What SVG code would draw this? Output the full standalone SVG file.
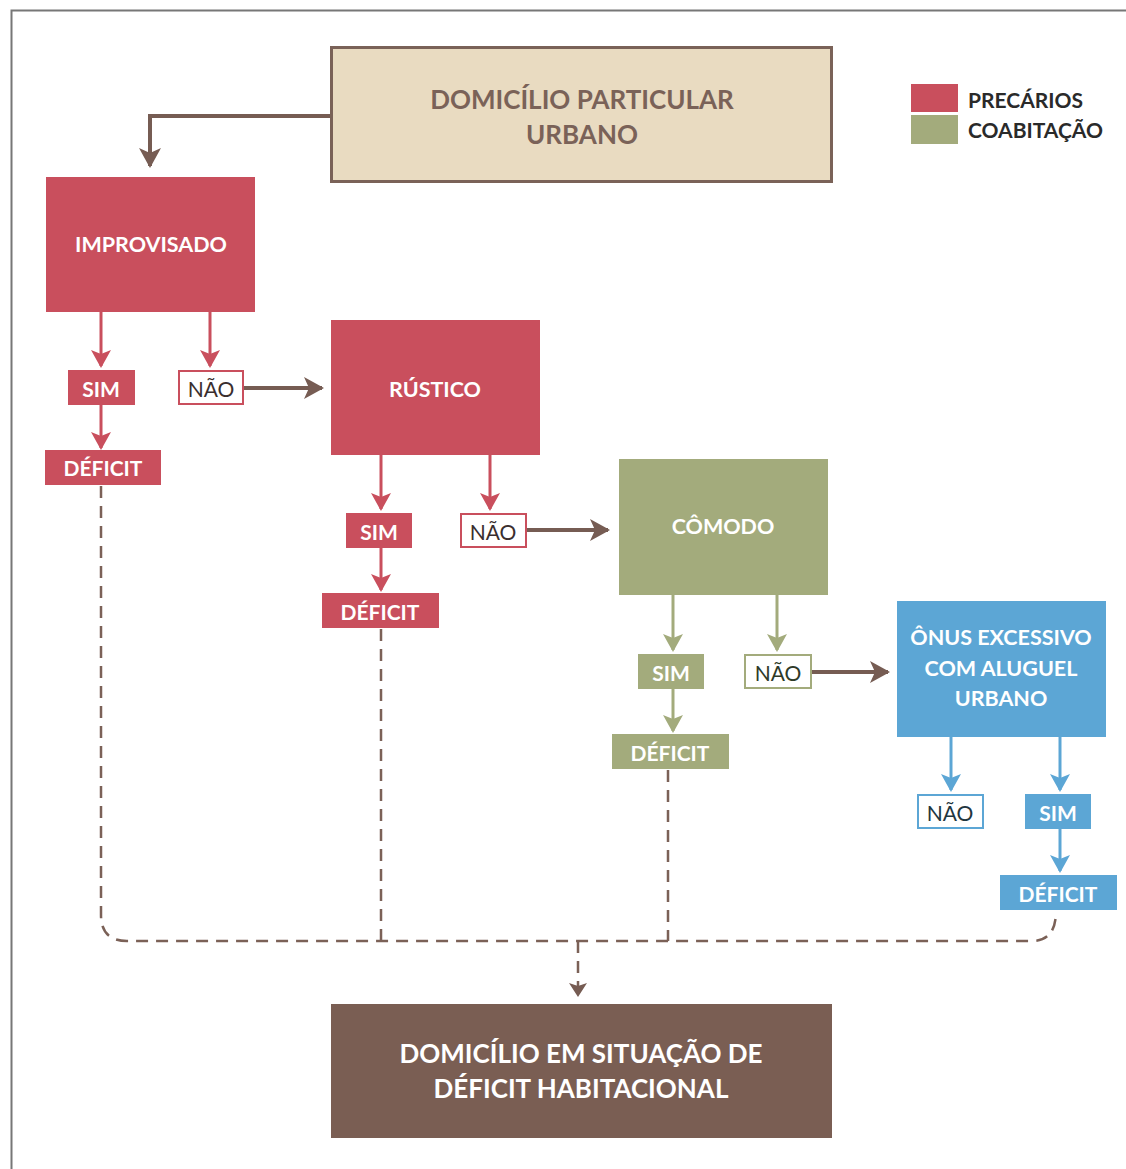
<svg xmlns="http://www.w3.org/2000/svg" width="1126" height="1169" viewBox="0 0 1126 1169">
<style>
text{font-family:Lato,"Open Sans","Liberation Sans",sans-serif;font-weight:bold;text-anchor:middle;dominant-baseline:central}
.w{fill:#fff}
.red{fill:#c94f5d}
.grn{fill:#a3ab7c}
.blu{fill:#5ca6d5}
.lr{stroke:#c94f5d;stroke-width:3;fill:none}
.lg{stroke:#a3ab7c;stroke-width:3;fill:none}
.lb{stroke:#5ca6d5;stroke-width:3;fill:none}
.lbr{stroke:#765c53;stroke-width:4;fill:none}
.dash{stroke:#7b6157;stroke-width:2.5;fill:none;stroke-dasharray:12 8}
.lbl{font-size:21px}
.big{font-size:21.5px}
.no{font-weight:normal;font-size:21px}
</style>
<defs>
<marker id="ar" viewBox="0 0 18 20" refX="16" refY="10" markerWidth="18" markerHeight="20" markerUnits="userSpaceOnUse" orient="auto"><path d="M0,0 L18,10 L0,20 L4,10 z" fill="#c94f5d"/></marker>
<marker id="ag" viewBox="0 0 18 20" refX="16" refY="10" markerWidth="18" markerHeight="20" markerUnits="userSpaceOnUse" orient="auto"><path d="M0,0 L18,10 L0,20 L4,10 z" fill="#a3ab7c"/></marker>
<marker id="ab" viewBox="0 0 18 20" refX="16" refY="10" markerWidth="18" markerHeight="20" markerUnits="userSpaceOnUse" orient="auto"><path d="M0,0 L18,10 L0,20 L4,10 z" fill="#5ca6d5"/></marker>
<marker id="abr" viewBox="0 0 20 22" refX="18" refY="11" markerWidth="20" markerHeight="22" markerUnits="userSpaceOnUse" orient="auto"><path d="M0,0 L20,11 L0,22 L5,11 z" fill="#765c53"/></marker>
<marker id="abs" viewBox="0 0 14 18" refX="13" refY="9" markerWidth="14" markerHeight="18" markerUnits="userSpaceOnUse" orient="auto"><path d="M0,0 L14,9 L0,18 L3,9 z" fill="#765c53"/></marker>
</defs>
<rect width="1126" height="1169" fill="#fff"/>
<path d="M11.5,1169 V10.5 H1126" fill="none" stroke="#777" stroke-width="2"/>

<g id="connectors">
<path class="lbr" d="M331,116 H150 V166" marker-end="url(#abr)"/>
<path class="lr" d="M101,312 V366" marker-end="url(#ar)"/>
<path class="lr" d="M210,312 V366" marker-end="url(#ar)"/>
<path class="lr" d="M101,405 V448" marker-end="url(#ar)"/>
<path class="lbr" d="M243,388 H322" marker-end="url(#abr)"/>
<path class="lr" d="M381,455 V509" marker-end="url(#ar)"/>
<path class="lr" d="M490,455 V509" marker-end="url(#ar)"/>
<path class="lr" d="M381,548 V590" marker-end="url(#ar)"/>
<path class="lbr" d="M526,530 H608" marker-end="url(#abr)"/>
<path class="lg" d="M673,595 V650" marker-end="url(#ag)"/>
<path class="lg" d="M777,595 V650" marker-end="url(#ag)"/>
<path class="lg" d="M673,689 V731" marker-end="url(#ag)"/>
<path class="lbr" d="M811,672 H888" marker-end="url(#abr)"/>
<path class="lb" d="M951,737 V790" marker-end="url(#ab)"/>
<path class="lb" d="M1060,737 V790" marker-end="url(#ab)"/>
<path class="lb" d="M1060,829 V871" marker-end="url(#ab)"/>
<path class="dash" d="M101,486 V915 Q101,941 127,941 H1032 Q1056,941 1056,911"/>
<path class="dash" d="M381,629 V941"/>
<path class="dash" d="M668,770 V941"/>
<path class="dash" d="M578,941 V996" marker-end="url(#abs)"/>
</g>

<g id="legend">
<rect x="911" y="84" width="47" height="28" fill="#c94f5d"/>
<rect x="911" y="115" width="47" height="29" fill="#a3ab7c"/>
<text x="968" y="99" style="text-anchor:start;font-size:21px;fill:#2a2a2a">PRECÁRIOS</text>
<text x="968" y="129" style="text-anchor:start;font-size:21px;fill:#2a2a2a">COABITAÇÃO</text>
</g>

<g id="n-domicilio">
<rect x="331.5" y="47.5" width="500" height="134" fill="#e9dbc1" stroke="#7a6258" stroke-width="3"/>
<text x="582" y="99" style="font-size:26px;fill:#7a6258">DOMICÍLIO PARTICULAR</text>
<text x="582" y="134" style="font-size:26px;fill:#7a6258">URBANO</text>
</g>

<g id="n-improvisado">
<rect x="46" y="177" width="209" height="135" class="red"/>
<text x="151" y="244" class="w big">IMPROVISADO</text>
</g>
<g id="n-sim1"><rect x="68" y="370" width="67" height="35" class="red"/><text x="101" y="388" class="w lbl">SIM</text></g>
<g id="n-nao1"><rect x="179" y="371" width="64" height="33" fill="#fff" stroke="#c94f5d" stroke-width="2"/><text x="211" y="388" class="no" fill="#3a2e2e">NÃO</text></g>
<g id="n-deficit1"><rect x="45" y="450" width="116" height="35" class="red"/><text x="103" y="467" class="w lbl">DÉFICIT</text></g>

<g id="n-rustico">
<rect x="331" y="320" width="209" height="135" class="red"/>
<text x="435" y="389" class="w big">RÚSTICO</text>
</g>
<g id="n-sim2"><rect x="346" y="513" width="66" height="35" class="red"/><text x="379" y="531" class="w lbl">SIM</text></g>
<g id="n-nao2"><rect x="461" y="514" width="65" height="33" fill="#fff" stroke="#c94f5d" stroke-width="2"/><text x="493" y="531" class="no" fill="#3a2e2e">NÃO</text></g>
<g id="n-deficit2"><rect x="322" y="593" width="117" height="35" class="red"/><text x="380" y="611" class="w lbl">DÉFICIT</text></g>

<g id="n-comodo">
<rect x="619" y="459" width="209" height="136" class="grn"/>
<text x="723" y="526" class="w big">CÔMODO</text>
</g>
<g id="n-sim3"><rect x="638" y="654" width="66" height="35" class="grn"/><text x="671" y="672" class="w lbl">SIM</text></g>
<g id="n-nao3"><rect x="745" y="655" width="66" height="33" fill="#fff" stroke="#a3ab7c" stroke-width="2"/><text x="778" y="672" class="no" fill="#2e3a28">NÃO</text></g>
<g id="n-deficit3"><rect x="612" y="734" width="117" height="35" class="grn"/><text x="670" y="752" class="w lbl">DÉFICIT</text></g>

<g id="n-onus">
<rect x="897" y="601" width="209" height="136" class="blu"/>
<text x="1001" y="637" class="w big">ÔNUS EXCESSIVO</text>
<text x="1001" y="668" class="w big">COM ALUGUEL</text>
<text x="1001" y="698" class="w big">URBANO</text>
</g>
<g id="n-nao4"><rect x="918" y="795" width="65" height="33" fill="#fff" stroke="#5ca6d5" stroke-width="2"/><text x="950" y="812" class="no" fill="#1f3640">NÃO</text></g>
<g id="n-sim4"><rect x="1025" y="794" width="66" height="35" class="blu"/><text x="1058" y="812" class="w lbl">SIM</text></g>
<g id="n-deficit4"><rect x="1000" y="875" width="117" height="35" class="blu"/><text x="1058" y="893" class="w lbl">DÉFICIT</text></g>

<g id="n-resultado">
<rect x="331" y="1004" width="501" height="134" fill="#7a5e53"/>
<text x="581" y="1053" class="w" style="font-size:26px">DOMICÍLIO EM SITUAÇÃO DE</text>
<text x="581" y="1088" class="w" style="font-size:26px">DÉFICIT HABITACIONAL</text>
</g>
</svg>
